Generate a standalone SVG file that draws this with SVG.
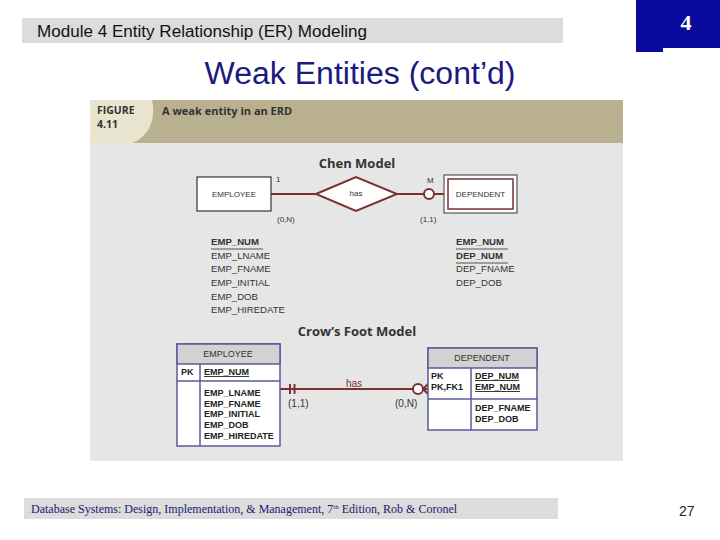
<svg xmlns="http://www.w3.org/2000/svg" width="720" height="540" viewBox="0 0 720 540">
<defs>
<style>
.sans{font-family:"Liberation Sans",Arial,sans-serif}
.hum{font-family:"Open Sans","Liberation Sans",sans-serif;fill:#333}
.chen{font-family:"Liberation Sans",Arial,sans-serif;font-size:8px;fill:#333}
.attr{font-family:"Liberation Sans",Arial,sans-serif;font-size:9.6px;fill:#333}
.cf{font-family:"Liberation Sans",Arial,sans-serif;font-size:9px;font-weight:bold;fill:#222}
.hd{font-family:"Liberation Sans",Arial,sans-serif;font-size:9px;fill:#333}
.tbl{fill:#fff;stroke:#5a5a9a;stroke-width:1.5}
.thd{fill:#d2d2d2;stroke:#5a5a9a;stroke-width:1.5}
.rel{stroke:#7a3030;stroke-width:2;fill:none}
</style>
</defs>
<rect width="720" height="540" fill="#fff"/>
<g id="header">
<rect x="22" y="18" width="541" height="25" fill="#dcdcdc"/>
<text x="37" y="37" class="sans" font-size="16" fill="#111" textLength="330" lengthAdjust="spacingAndGlyphs">Module 4 Entity Relationship (ER) Modeling</text>
<path d="M636,0 H720 V48 H663 V52 H636 Z" fill="#0a0a9c"/>
<text x="686" y="30" font-family="Liberation Serif,serif" font-weight="bold" font-size="22" fill="#fff" text-anchor="middle">4</text>
<text x="360" y="84" class="sans" font-size="31" fill="#1a1a80" text-anchor="middle" textLength="311" lengthAdjust="spacingAndGlyphs">Weak Entities (cont’d)</text>
</g>
<g id="figure">
<rect x="90" y="100" width="533" height="361" fill="#e6e6e6"/>
<rect x="90" y="100" width="533" height="43" fill="#b9b08f"/>
<path d="M90,100 H152 C156,118 150,136 132,143 H90 Z" fill="#e9e4ce"/>
<text x="97" y="114" class="hum" font-size="10.5" font-weight="bold">FIGURE</text>
<text x="97" y="128" class="hum" font-size="10.5" font-weight="bold">4.11</text>
<text x="162" y="115" class="hum" font-size="11" font-weight="bold">A weak entity in an ERD</text>
<text x="357" y="168" class="hum" font-size="13" font-weight="bold" text-anchor="middle">Chen Model</text>
<text x="357" y="336" class="hum" font-size="13" font-weight="bold" text-anchor="middle">Crow’s Foot Model</text>
</g>
<g id="connectors">
<line x1="271" y1="194" x2="316" y2="194" class="rel"/>
<line x1="397" y1="194" x2="424" y2="194" class="rel"/>
<circle cx="429" cy="194" r="5" fill="#fff" stroke="#7a3030" stroke-width="2"/>
<line x1="434" y1="194" x2="444" y2="194" class="rel"/>
<line x1="280" y1="389" x2="413" y2="389" class="rel"/>
<line x1="290" y1="384" x2="290" y2="394" class="rel"/>
<line x1="294.5" y1="384" x2="294.5" y2="394" class="rel"/>
<circle cx="418" cy="389" r="5" fill="#fff" stroke="#7a3030" stroke-width="2"/>
<path d="M423,389 L428,384 M423,389 H428 M423,389 L428,394" class="rel"/>
<text x="354" y="387" class="sans" font-size="10" fill="#7a3030" text-anchor="middle">has</text>
<text x="288" y="407" class="sans" font-size="10" fill="#333">(1,1)</text>
<text x="395" y="407" class="sans" font-size="10" fill="#333">(0,N)</text>
<text x="276" y="182" class="chen">1</text>
<text x="427" y="183" class="chen">M</text>
<text x="277" y="222" class="chen">(0,N)</text>
<text x="420" y="222" class="chen">(1,1)</text>
</g>
<g id="chen-employee">
<rect x="197" y="177" width="74" height="34" fill="#fff" stroke="#333" stroke-width="1.2"/>
<text x="234" y="197" class="chen" text-anchor="middle">EMPLOYEE</text>
</g>
<g id="chen-has">
<path d="M316,194 L356,177 L397,194 L356,211 Z" fill="#fff" stroke="#7a3030" stroke-width="2"/>
<text x="356" y="196" class="chen" font-size="6" text-anchor="middle">has</text>
</g>
<g id="chen-dependent">
<rect x="444" y="175" width="73" height="38" fill="#fff" stroke="#555" stroke-width="1.2"/>
<rect x="448" y="179" width="65" height="30" fill="#fff" stroke="#7a3030" stroke-width="1.5"/>
<text x="480.5" y="197" class="chen" text-anchor="middle">DEPENDENT</text>
</g>
<g id="emp-attrs">
<text x="211" y="245" class="attr" font-weight="bold">EMP_NUM</text>
<line x1="211" y1="249" x2="263" y2="249" stroke="#555" stroke-width="1"/>
<text x="211" y="259" class="attr">EMP_LNAME</text>
<text x="211" y="272" class="attr">EMP_FNAME</text>
<text x="211" y="286" class="attr">EMP_INITIAL</text>
<text x="211" y="300" class="attr">EMP_DOB</text>
<text x="211" y="313" class="attr">EMP_HIREDATE</text>
</g>
<g id="dep-attrs">
<text x="456" y="245" class="attr" font-weight="bold">EMP_NUM</text>
<line x1="456" y1="249" x2="508" y2="249" stroke="#555" stroke-width="1"/>
<text x="456" y="259" class="attr" font-weight="bold">DEP_NUM</text>
<line x1="456" y1="263" x2="508" y2="263" stroke="#555" stroke-width="1"/>
<text x="456" y="272" class="attr">DEP_FNAME</text>
<text x="456" y="286" class="attr">DEP_DOB</text>
</g>
<g id="cf-employee">
<rect x="177" y="344" width="103" height="102" class="tbl"/>
<rect x="177" y="344" width="103" height="20" class="thd"/>
<line x1="177" y1="381" x2="280" y2="381" stroke="#5a5a9a" stroke-width="1.5"/>
<line x1="200" y1="364" x2="200" y2="446" stroke="#5a5a9a" stroke-width="1.5"/>
<text x="228" y="357" class="hd" text-anchor="middle">EMPLOYEE</text>
<text x="181" y="375" class="cf">PK</text>
<text x="204" y="375" class="cf" text-decoration="underline">EMP_NUM</text>
<text x="204" y="396" class="cf">EMP_LNAME</text>
<text x="204" y="407" class="cf">EMP_FNAME</text>
<text x="204" y="417" class="cf">EMP_INITIAL</text>
<text x="204" y="428" class="cf">EMP_DOB</text>
<text x="204" y="439" class="cf">EMP_HIREDATE</text>
</g>
<g id="cf-dependent">
<rect x="428" y="348" width="109" height="82" class="tbl"/>
<rect x="428" y="348" width="109" height="20" class="thd"/>
<line x1="428" y1="399" x2="537" y2="399" stroke="#5a5a9a" stroke-width="1.5"/>
<line x1="471" y1="368" x2="471" y2="430" stroke="#5a5a9a" stroke-width="1.5"/>
<text x="482" y="361" class="hd" text-anchor="middle">DEPENDENT</text>
<text x="431" y="379" class="cf">PK</text>
<text x="431" y="390" class="cf">PK,FK1</text>
<text x="475" y="379" class="cf" text-decoration="underline">DEP_NUM</text>
<text x="475" y="390" class="cf" text-decoration="underline">EMP_NUM</text>
<text x="475" y="411" class="cf">DEP_FNAME</text>
<text x="475" y="422" class="cf">DEP_DOB</text>
</g>
<g id="footer">
<rect x="24" y="498" width="534" height="21" fill="#dcdcdc"/>
<text x="31" y="513" font-family="Liberation Serif,serif" font-size="12" fill="#1a1a70">Database Systems: Design, Implementation, &amp; Management, 7<tspan font-size="7" dy="-4">th</tspan><tspan dy="4"> Edition, Rob &amp; Coronel</tspan></text>
<text x="679" y="516" class="sans" font-size="14" fill="#222">27</text>
</g>
</svg>
